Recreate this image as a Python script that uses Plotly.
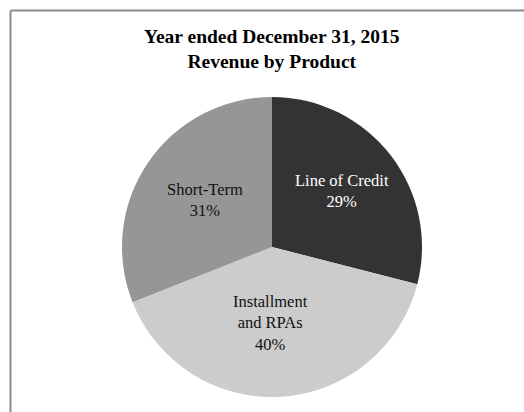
import plotly.graph_objects as go

# Revenue share by product, year ended December 31, 2015
labels = ["Line of Credit", "Installment<br>and RPAs", "Short-Term"]
values = [29, 40, 31]
colors = ["#333333", "#cccccc", "#969696"]
text_colors = ["#ffffff", "#111111", "#111111"]

W, H = 524, 412

# label anchor positions in pixels (centre of text block)
label_px = [(342, 191), (270, 323), (205, 200)]

fig = go.Figure(
    go.Pie(
        labels=labels,
        values=values,
        sort=False,
        direction="clockwise",
        rotation=0,
        marker=dict(colors=colors, line=dict(width=0)),
        textinfo="none",
        hoverinfo="label+percent",
        showlegend=False,
        domain=dict(x=[122 / W, 422 / W], y=[1 - 397 / H, 1 - 97 / H]),
    )
)

total = sum(values)
annotations = []
for lab, v, tc, (px, py) in zip(labels, values, text_colors, label_px):
    annotations.append(
        dict(
            x=px / W,
            y=1 - py / H,
            xref="paper",
            yref="paper",
            text=f"{lab}<br>{round(100 * v / total)}%",
            showarrow=False,
            font=dict(family="Liberation Serif", size=16.5, color=tc),
            xanchor="center",
            yanchor="middle",
            align="center",
        )
    )

annotations.append(
    dict(
        x=272 / W,
        y=1 - 49 / H,
        xref="paper",
        yref="paper",
        text="<b>Year ended December 31, 2015<br>Revenue by Product</b>",
        showarrow=False,
        font=dict(family="Liberation Serif", size=19.5, color="#000000"),
        xanchor="center",
        yanchor="middle",
        align="center",
    )
)

# chart frame (top and left edges visible)
frame = dict(color="#8c8c8c", width=2)
shapes = [
    dict(type="line", xref="paper", yref="paper",
         x0=10.5 / W, x1=1.01, y0=1 - 10.5 / H, y1=1 - 10.5 / H, line=frame),
    dict(type="line", xref="paper", yref="paper",
         x0=10.5 / W, x1=10.5 / W, y0=1 - 10.5 / H, y1=-0.01, line=frame),
]

fig.update_layout(
    width=W,
    height=H,
    margin=dict(l=0, r=0, t=0, b=0),
    paper_bgcolor="#ffffff",
    plot_bgcolor="#ffffff",
    annotations=annotations,
    shapes=shapes,
)

fig.write_html("out.html")
